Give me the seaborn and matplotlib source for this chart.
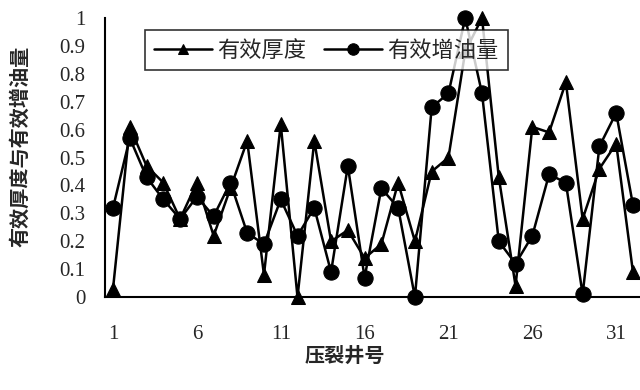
import numpy as np
import pandas as pd
import matplotlib
matplotlib.use("Agg")
import matplotlib.pyplot as plt
import seaborn as sns

# well numbers and the two normalised series
wells = list(range(1, 33))
thickness = [0.03, 0.61, 0.47, 0.41, 0.28, 0.41, 0.22, 0.39, 0.56, 0.08,
             0.62, 0.00, 0.56, 0.20, 0.24, 0.14, 0.19, 0.41, 0.20, 0.45,
             0.50, 0.88, 1.00, 0.43, 0.04, 0.61, 0.59, 0.77, 0.28, 0.46,
             0.55, 0.09]
oil_gain = [0.32, 0.57, 0.43, 0.35, 0.28, 0.36, 0.29, 0.41, 0.23, 0.19,
            0.35, 0.22, 0.32, 0.09, 0.47, 0.07, 0.39, 0.32, 0.00, 0.68,
            0.73, 1.00, 0.73, 0.20, 0.12, 0.22, 0.44, 0.41, 0.01, 0.54,
            0.66, 0.33]
x_ticks = [1, 6, 11, 16, 21, 26, 31]
y_ticks = [0, 0.1, 0.2, 0.3, 0.4, 0.5, 0.6, 0.7, 0.8, 0.9, 1]
y_tick_labels = ["0", "0.1", "0.2", "0.3", "0.4", "0.5", "0.6", "0.7", "0.8", "0.9", "1"]

df = pd.DataFrame({"井号": wells, "有效厚度": thickness, "有效增油量": oil_gain})

sns.set_style("white")
plt.rcParams["font.family"] = ["Liberation Serif", "Noto Sans CJK SC", "DejaVu Sans"]

fig = plt.figure(figsize=(6.4, 3.9), dpi=100)
ax = fig.add_axes([0.164, 0.238, 0.836, 0.716])

sns.lineplot(data=df, x="井号", y="有效厚度", ax=ax, color="black", marker="^",
             markersize=10, linewidth=1.8, markeredgecolor="black",
             label="有效厚度", clip_on=False)
sns.lineplot(data=df, x="井号", y="有效增油量", ax=ax, color="black", marker="o",
             markersize=11, linewidth=1.8, markeredgecolor="black",
             label="有效增油量", clip_on=False)

ax.set_xlim(0.52, 32.42)
ax.set_ylim(0, 1)
ax.set_xticks(x_ticks)
ax.set_xticks(np.arange(1.5, 32.5, 1), minor=True)
ax.set_yticks(y_ticks)
ax.set_yticklabels(y_tick_labels)
ax.tick_params(axis="x", which="major", length=0, pad=20, labelsize=15)
ax.tick_params(axis="x", which="minor", direction="in", length=4, width=1, color="black")
ax.tick_params(axis="y", direction="in", length=5, width=1, pad=14, labelsize=15, color="black")

for side in ["top", "right"]:
    ax.spines[side].set_visible(False)
for side in ["left", "bottom"]:
    ax.spines[side].set_color("black")
    ax.spines[side].set_linewidth(1.5)

ax.set_xlabel("压裂井号", fontsize=14.5, family=["Noto Sans CJK SC"], fontweight="bold",
              va="center")
ax.xaxis.set_label_coords(0.449, -0.208)
ax.set_ylabel("有效厚度与有效增油量", fontsize=14.5, family=["Noto Sans CJK SC"],
              fontweight="bold", va="center")
ax.yaxis.set_label_coords(-0.159, 0.541)

leg = ax.legend(loc="upper left", bbox_to_anchor=(0.075, 0.958), ncol=2,
                frameon=True, fancybox=False, edgecolor="black",
                handlelength=2.6, handletextpad=0.25, columnspacing=0.8,
                borderpad=0.4, borderaxespad=0, markerscale=0.75,
                prop={"family": ["Noto Sans CJK SC"], "size": 16})
leg.get_frame().set_linewidth(1.2)

plt.savefig("out.png", dpi=100)
